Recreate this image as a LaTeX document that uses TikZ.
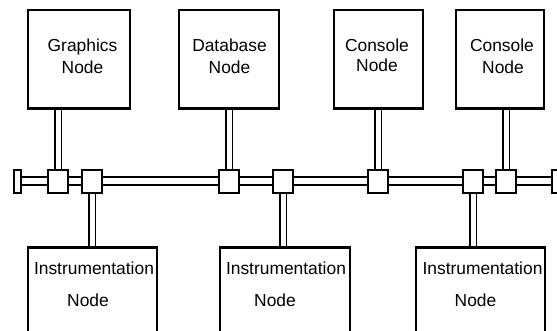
\documentclass[tikz,border=0pt]{standalone}
\usepackage{fontspec}
\setmainfont{Liberation Sans}
\begin{document}
\begin{tikzpicture}[x=1pt,y=-1pt,
  box/.style={draw=black,line width=2pt,fill=white,inner sep=0pt},
  tap/.style={draw=black,line width=2pt,fill=white,inner sep=0pt,minimum width=20pt,minimum height=23pt},
  endcap/.style={draw=black,line width=2pt,fill=white,inner sep=0pt,minimum width=7pt,minimum height=23pt},
  rail/.style={draw=black,line width=2pt,double=white,double distance=6pt},
  stem/.style={draw=black,line width=1.6pt,double=white,double distance=5pt},
  txt/.style={font=\fontsize{17.4}{22}\selectfont,anchor=base,inner sep=0pt}]
\clip (0,0) rectangle (557,331);
% top boxes
\node[box,minimum width=102pt,minimum height=98pt] (g)  at (79,59) {};
\node[box,minimum width=100pt,minimum height=98pt] (d)  at (229,59) {};
\node[box,minimum width=89pt,minimum height=98pt]  (c1) at (378.5,59) {};
\node[box,minimum width=88pt,minimum height=98pt]  (c2) at (500,59) {};
% bottom boxes
\node[box,minimum width=129pt,minimum height=130pt] (i1) at (92.5,313) {};
\node[box,minimum width=130pt,minimum height=130pt] (i2) at (284.5,313) {};
\node[box,minimum width=129pt,minimum height=130pt] (i3) at (480.5,313) {};
% bus end caps and taps (coordinates)
\coordinate (lc) at (17.5,181.5);
\coordinate (rc) at (555,181.5);
\coordinate (p1) at (58,181.5);
\coordinate (p2) at (92,181.5);
\coordinate (p3) at (229,181.5);
\coordinate (p4) at (283,181.5);
\coordinate (p5) at (378,181.5);
\coordinate (p6) at (473,181.5);
\coordinate (p7) at (506,181.5);
% rail
\draw[rail] (lc) -- (rc);
% stems
\draw[stem] (g.south -| p1) -- (p1);
\draw[stem] (d.south -| p3) -- (p3);
\draw[stem] (c1.south -| p5) -- (p5);
\draw[stem] (c2.south -| p7) -- (p7);
\draw[stem] (p2) -- (i1.north -| p2);
\draw[stem] (p4) -- (i2.north -| p4);
\draw[stem] (p6) -- (i3.north -| p6);
% redraw box outlines over stem ends
\draw[line width=2pt] (g.south west) -- (g.south east);
\draw[line width=2pt] (d.south west) -- (d.south east);
\draw[line width=2pt] (c1.south west) -- (c1.south east);
\draw[line width=2pt] (c2.south west) -- (c2.south east);
\draw[line width=2pt] (i1.north west) -- (i1.north east);
\draw[line width=2pt] (i2.north west) -- (i2.north east);
\draw[line width=2pt] (i3.north west) -- (i3.north east);
% caps and taps
\node[endcap] (lcap) at (lc) {};
\node[endcap] (rcap) at (rc) {};
\node[tap] (s1) at (p1) {};
\node[tap] (s2) at (p2) {};
\node[tap] (s3) at (p3) {};
\node[tap] (s4) at (p4) {};
\node[tap] (s5) at (p5) {};
\node[tap] (s6) at (p6) {};
\node[tap] (s7) at (p7) {};
% texts
\node[txt] (gt1) at (82.5,52) {Graphics};
\node[txt] (gt2) at (82.5,74) {Node};
\node[txt] (dt1) at (229.5,52) {Database};
\node[txt] (dt2) at (229.5,74) {Node};
\node[txt] (c1t1) at (377,52) {Console};
\node[txt] (c1t2) at (377,72) {Node};
\node[txt] (c2t1) at (502,52) {Console};
\node[txt] (c2t2) at (503,74) {Node};
\node[txt] (i1t1) at (94,274) {Instrumentation};
\node[txt] (i1t2) at (88,306) {Node};
\node[txt] (i2t1) at (286,274) {Instrumentation};
\node[txt] (i2t2) at (275,306) {Node};
\node[txt] (i3t1) at (482.5,274) {Instrumentation};
\node[txt] (i3t2) at (475.5,306) {Node};
\end{tikzpicture}
\end{document}
